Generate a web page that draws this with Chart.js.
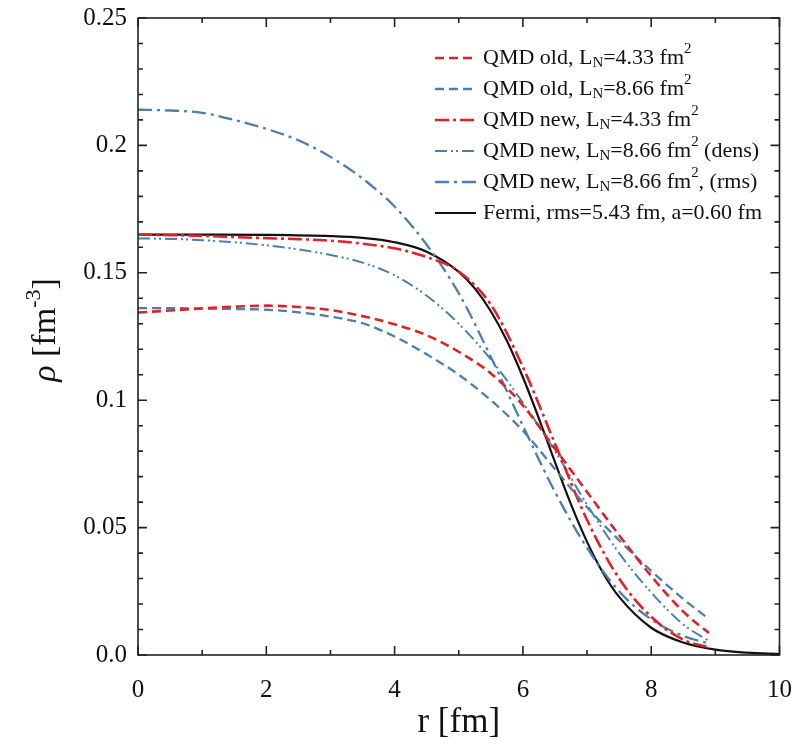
<!DOCTYPE html>
<html>
<head>
<meta charset="utf-8">
<script src="https://cdn.jsdelivr.net/npm/chart.js@4.4.0/dist/chart.umd.min.js"></script>
<style>
  html, body { margin: 0; padding: 0; background: #fff; overflow: hidden; }
  #wrap { width: 794px; height: 744px; overflow: hidden; }
</style>
</head>
<body>
<div id="wrap"><canvas id="densityChart" width="804" height="744"></canvas></div>
<script>
// radius grid (fm) for the QMD curves and for the Fermi curve
const rQmd = [0, 0.5, 1, 1.5, 2, 2.5, 3, 3.5, 4, 4.5, 5, 5.5, 6, 6.5, 7, 7.5, 8, 8.5, 8.9];
const rFermi = [0, 1, 2, 3, 3.5, 4, 4.5, 5, 5.25, 5.5, 5.75, 6, 6.25, 6.5, 6.75, 7, 7.25, 7.5, 8, 8.5, 9, 9.5, 10];

// densities (fm^-3)
const oldL433 = [0.1344, 0.1352, 0.1360, 0.1367, 0.1371, 0.1366, 0.1354, 0.1330, 0.1298, 0.1255, 0.1190, 0.1105, 0.0980, 0.0810, 0.0640, 0.0470, 0.0310, 0.0170, 0.0086];
const oldL866 = [0.1361, 0.1361, 0.1360, 0.1358, 0.1355, 0.1345, 0.1328, 0.1302, 0.1250, 0.1180, 0.1100, 0.1000, 0.0880, 0.0730, 0.0580, 0.0450, 0.0330, 0.0220, 0.0141];
const newL433 = [0.1650, 0.1648, 0.1645, 0.1640, 0.1636, 0.1632, 0.1626, 0.1614, 0.1596, 0.1562, 0.1505, 0.1375, 0.1130, 0.0830, 0.0530, 0.0300, 0.0150, 0.0060, 0.0030];
const newL866dens = [0.1635, 0.1633, 0.1628, 0.1620, 0.1608, 0.1592, 0.1570, 0.1540, 0.1490, 0.1410, 0.1300, 0.1160, 0.0990, 0.0800, 0.0590, 0.0400, 0.0245, 0.0120, 0.0055];
const newL866rms = [0.2140, 0.2137, 0.2128, 0.2100, 0.2065, 0.2020, 0.1955, 0.1870, 0.1760, 0.1610, 0.1420, 0.1170, 0.0900, 0.0640, 0.0420, 0.0250, 0.0140, 0.0075, 0.0045];
const fermi = [0.1650, 0.1650, 0.1649, 0.1644, 0.1637, 0.1620, 0.1583, 0.1504, 0.1439, 0.1349, 0.1233, 0.1090, 0.0928, 0.0757, 0.0591, 0.0444, 0.0322, 0.0228, 0.0107, 0.0049, 0.0021, 0.0009, 0.0004];

const xTicks = [0, 2, 4, 6, 8, 10];
const yTicks = [0, 0.05, 0.1, 0.15, 0.2, 0.25];
const yTickLabels = ['0.0', '0.05', '0.1', '0.15', '0.2', '0.25'];

// legend text, split into normal / subscript / superscript pieces
const legendLabels = [
    [['QMD old, L', ''], ['N', 'sub'], ['=4.33 fm', ''], ['2', 'sup']],
    [['QMD old, L', ''], ['N', 'sub'], ['=8.66 fm', ''], ['2', 'sup']],
    [['QMD new, L', ''], ['N', 'sub'], ['=4.33 fm', ''], ['2', 'sup']],
    [['QMD new, L', ''], ['N', 'sub'], ['=8.66 fm', ''], ['2', 'sup'], [' (dens)', '']],
    [['QMD new, L', ''], ['N', 'sub'], ['=8.66 fm', ''], ['2', 'sup'], [', (rms)', '']],
    [['Fermi, rms=5.43 fm, a=0.60 fm', '']]
];

const RED = 'rgb(226, 32, 38)';
const BLUE = 'rgb(74, 128, 176)';
const SERIF = '"Liberation Serif", "Times New Roman", serif';

function pts(xs, ys) {
    return xs.map((x, i) => ({ x: x, y: ys[i] }));
}

function lineSet(data, color, dash, width) {
    return {
        data: data,
        borderColor: color,
        borderDash: dash,
        borderWidth: width,
        pointRadius: 0,
        fill: false,
        cubicInterpolationMode: 'monotone'
    };
}

const datasets = [
    lineSet(pts(rQmd, oldL433), RED, [9, 5], 2.6),
    lineSet(pts(rQmd, oldL866), BLUE, [9, 5], 2.3),
    lineSet(pts(rQmd, newL433), RED, [14, 4, 3, 4], 2.6),
    lineSet(pts(rQmd, newL866dens), BLUE, [12, 4, 2, 3, 2, 4], 2.0),
    lineSet(pts(rQmd, newL866rms), BLUE, [14, 5, 3, 5], 2.3),
    lineSet(pts(rFermi, fermi), '#111', [], 2.2)
];

// inward ticks on all four sides plus the frame
const framePlugin = {
    id: 'frame',
    afterDraw(chart) {
        const ctx = chart.ctx;
        const a = chart.chartArea;
        const xs = chart.scales.x, ys = chart.scales.y;
        ctx.save();
        ctx.strokeStyle = '#222';
        ctx.lineWidth = 1.6;
        ctx.strokeRect(a.left, a.top, a.right - a.left, a.bottom - a.top);
        ctx.beginPath();
        for (let v = 0; v <= 10; v++) {
            const px = xs.getPixelForValue(v);
            const len = v % 2 === 0 ? 9 : 5;
            ctx.moveTo(px, a.bottom); ctx.lineTo(px, a.bottom - len);
            ctx.moveTo(px, a.top); ctx.lineTo(px, a.top + len);
        }
        for (let k = 0; k <= 25; k++) {
            const py = ys.getPixelForValue(k / 100);
            const len = k % 5 === 0 ? 9 : 5;
            ctx.moveTo(a.left, py); ctx.lineTo(a.left + len, py);
            ctx.moveTo(a.right, py); ctx.lineTo(a.right - len, py);
        }
        ctx.stroke();
        ctx.restore();
    }
};

function drawPieces(ctx, pieces, x, y, size) {
    pieces.forEach(p => {
        let s = size, dy = 0;
        if (p[1] === 'sub') { s = size * 0.68; dy = 5; }
        if (p[1] === 'sup') { s = size * 0.68; dy = -9; }
        ctx.font = s + 'px ' + SERIF;
        ctx.fillText(p[0], x, y + dy);
        x += ctx.measureText(p[0]).width;
    });
}

// legend with sub/superscripts, plus the y axis title
const textPlugin = {
    id: 'texts',
    afterDraw(chart) {
        const ctx = chart.ctx;
        ctx.save();
        ctx.fillStyle = '#111';
        ctx.textBaseline = 'middle';
        chart.data.datasets.forEach((ds, i) => {
            const y = 58 + i * 31;
            ctx.beginPath();
            ctx.strokeStyle = ds.borderColor;
            ctx.lineWidth = ds.borderWidth;
            ctx.setLineDash(ds.borderDash);
            ctx.moveTo(435, y);
            ctx.lineTo(476, y);
            ctx.stroke();
            ctx.setLineDash([]);
            drawPieces(ctx, legendLabels[i], 483, y, 22);
        });

        ctx.translate(46, 330);
        ctx.rotate(-Math.PI / 2);
        ctx.textBaseline = 'middle';
        const parts = [['\u03C1', 'italic', 0, 34], [' [fm', '', 0, 34], ['-3', '', -12, 22], [']', '', 0, 34]];
        let total = 0;
        parts.forEach(p => {
            ctx.font = (p[1] ? 'italic ' : '') + p[3] + 'px ' + SERIF;
            total += ctx.measureText(p[0]).width;
        });
        let x = -total / 2;
        parts.forEach(p => {
            ctx.font = (p[1] ? 'italic ' : '') + p[3] + 'px ' + SERIF;
            ctx.fillText(p[0], x, p[2]);
            x += ctx.measureText(p[0]).width;
        });
        ctx.restore();
    }
};

const ctx = document.getElementById('densityChart').getContext('2d');
new Chart(ctx, {
    type: 'line',
    data: { datasets: datasets },
    options: {
        responsive: false,
        animation: false,
        layout: { padding: { top: 10, right: 0, left: 0, bottom: 0 } },
        plugins: { legend: { display: false }, tooltip: { enabled: false } },
        scales: {
            x: {
                type: 'linear',
                min: 0,
                max: 10,
                afterBuildTicks: s => { s.ticks = xTicks.map(v => ({ value: v })); },
                afterFit: s => { s.height = 89; },
                grid: { display: false },
                border: { display: false },
                ticks: { color: '#111', font: { family: SERIF, size: 25 }, padding: 12, maxRotation: 0 },
                title: { display: true, text: 'r [fm]', color: '#111', font: { family: SERIF, size: 35 }, padding: { top: 0, bottom: 0 } }
            },
            y: {
                type: 'linear',
                min: 0,
                max: 0.25,
                afterBuildTicks: s => { s.ticks = yTicks.map(v => ({ value: v })); },
                afterFit: s => { s.width = 138; },
                grid: { display: false },
                border: { display: false },
                ticks: {
                    color: '#111',
                    font: { family: SERIF, size: 25 },
                    padding: 3,
                    callback: v => yTickLabels[yTicks.findIndex(t => Math.abs(t - v) < 1e-9)]
                }
            }
        }
    },
    plugins: [framePlugin, textPlugin]
});
</script>
</body>
</html>
